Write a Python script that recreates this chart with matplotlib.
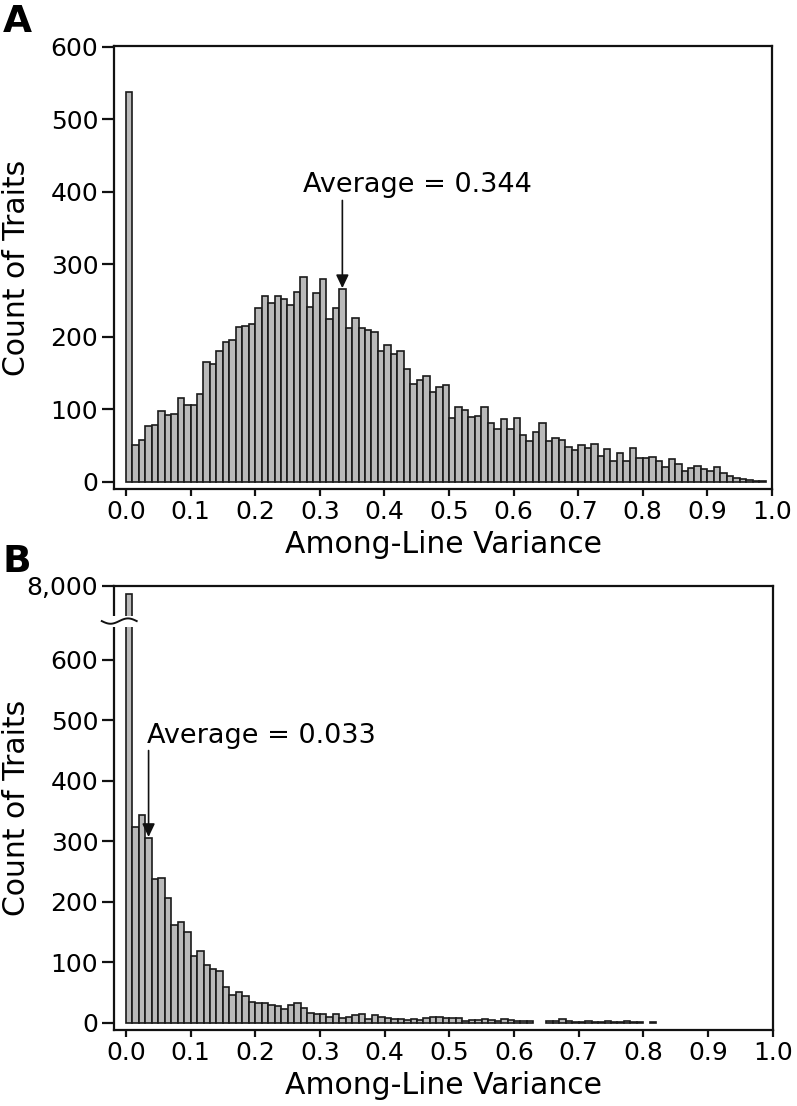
import numpy as np
import matplotlib
matplotlib.use("Agg")
import matplotlib.pyplot as plt
from matplotlib.patches import Rectangle

plt.rcParams['font.family'] = ['DejaVu Sans']

# ---------------- data ----------------
bin_width = 0.01
bin_left = np.round(np.arange(0, 1.0, bin_width), 2)

counts_a = [538, 51, 58, 77, 78, 98, 92, 94, 115, 106,
            106, 121, 165, 162, 181, 193, 196, 213, 215, 217,
            239, 256, 247, 256, 252, 244, 262, 283, 241, 261,
            279, 224, 240, 266, 212, 226, 212, 209, 206, 180,
            189, 176, 181, 156, 135, 140, 146, 124, 130, 133,
            88, 103, 99, 89, 90, 103, 81, 73, 87, 73,
            88, 65, 56, 69, 81, 56, 60, 58, 48, 44,
            50, 46, 52, 35, 45, 28, 39, 29, 46, 33,
            33, 34, 28, 20, 31, 24, 15, 19, 22, 17,
            15, 20, 12, 8, 5, 4, 2.5, 1.5, 0.5, 0]

counts_b = [7800, 324, 343, 306, 238, 239, 206, 162, 167, 150,
            110, 118, 96, 89, 85, 59, 46, 51, 44, 35,
            33, 33, 29, 27, 23, 29, 32, 25, 16, 15,
            15, 10, 14, 8, 10, 13, 14, 7, 12, 10,
            8, 7, 7, 5, 7, 5, 8, 9, 9, 8,
            8, 8, 3, 4, 4, 7, 5, 3, 6, 4,
            3, 3, 3, 0, 0, 3, 3, 6, 3, 2,
            2, 3, 2, 2, 3, 2, 2, 3, 2, 2,
            0, 2, 0, 0, 0, 0, 0, 0, 0, 0,
            0, 0, 0, 0, 0, 0, 0, 0, 0, 0]

x_ticks = [0.0, 0.1, 0.2, 0.3, 0.4, 0.5, 0.6, 0.7, 0.8, 0.9, 1.0]
x_ticklabels = ["0.0", "0.1", "0.2", "0.3", "0.4", "0.5", "0.6", "0.7", "0.8", "0.9", "1.0"]
y_ticks_a = [0, 100, 200, 300, 400, 500, 600]
y_ticks_b = [0, 100, 200, 300, 400, 500, 600, 8000]
y_ticklabels_b = ["0", "100", "200", "300", "400", "500", "600", "8,000"]

avg_text_a = "Average = 0.344"
avg_text_b = "Average = 0.033"
arrow_bin_a = 33      # bin the arrow points at (0.33-0.34)
arrow_bin_b = 3       # bin the arrow points at (0.03-0.04)

# ---------------- broken scale for panel B ----------------
B1, G, B2, YTOP, TTOP = 655.0, 18.0, 7250.0, 8000.0, 722.0
up_slope = (TTOP - B1 - G) / (YTOP - B2)


def fwd(y):
    y = np.asarray(y, dtype=float)
    return np.where(y <= B1, y,
                    np.where(y <= B2, B1 + (y - B1) * G / (B2 - B1),
                             B1 + G + (y - B2) * up_slope))


def inv(t):
    t = np.asarray(t, dtype=float)
    return np.where(t <= B1, t,
                    np.where(t <= B1 + G, B1 + (t - B1) * (B2 - B1) / G,
                             B2 + (t - B1 - G) / up_slope))


# ---------------- figure ----------------
W, H = 797, 1106
fig = plt.figure(figsize=(W / 100, H / 100), dpi=100)


def px_axes(l, t, r, b):
    return fig.add_axes([l / W, 1 - b / H, (r - l) / W, (b - t) / H])


axA = px_axes(114.3, 46, 772, 489)
axB = px_axes(114.3, 586, 772.7, 1030)

bar_face = "#bababa"
bar_edge = "#1a1a1a"
tick_fs = 18
label_fs = 21.5
avg_fs = 19.5
ink = "#111111"

for ax in (axA, axB):
    for s in ax.spines.values():
        s.set_linewidth(1.6)
        s.set_color(ink)
    ax.tick_params(axis="both", direction="out", width=1.6, color=ink,
                   labelsize=tick_fs, pad=3)
    ax.tick_params(axis="y", length=8.5)
    ax.tick_params(axis="x", length=5)
    ax.set_xlim(-0.018, 1.0)
    ax.set_xticks(x_ticks)
    ax.set_xticklabels(x_ticklabels)
    ax.set_xlabel("Among-Line Variance", fontsize=label_fs)
    ax.set_ylabel("Count of Traits", fontsize=label_fs)
    ax.yaxis.set_label_coords(-0.127, 0.5)
    ax.xaxis.set_label_coords(0.5, -0.092)

arrow_props = dict(arrowstyle="-|>,head_length=0.42,head_width=0.2",
                   color=ink, lw=1.2, shrinkA=0, shrinkB=0, mutation_scale=19)

# Panel A
ca = np.array(counts_a, dtype=float)
m = ca > 0
axA.bar(bin_left[m], ca[m], width=bin_width, align="edge",
        color=bar_face, edgecolor=bar_edge, linewidth=1.2)
axA.set_ylim(-10, 601)
axA.set_yticks(y_ticks_a)
xA = bin_left[arrow_bin_a] + bin_width / 2
axA.text(0.274, 400, avg_text_a, ha="left", va="baseline", fontsize=avg_fs)
axA.annotate("", xy=(xA, ca[arrow_bin_a] + 1), xytext=(xA, 388),
             arrowprops=arrow_props)

# Panel B
axB.set_yscale("function", functions=(fwd, inv))
cb = np.array(counts_b, dtype=float)
m = cb > 0
axB.bar(bin_left[m], cb[m], width=bin_width, align="edge",
        color=bar_face, edgecolor=bar_edge, linewidth=1.2)
axB.set_ylim(-12, YTOP)
axB.set_yticks(y_ticks_b)
axB.set_yticklabels(y_ticklabels_b)
axB.yaxis.set_minor_locator(matplotlib.ticker.NullLocator())
xB = bin_left[arrow_bin_b] + bin_width / 2
axB.text(0.033, 462, avg_text_b, ha="left", va="baseline", fontsize=avg_fs)
axB.annotate("", xy=(xB, cb[arrow_bin_b] + 1), xytext=(xB, 450),
             arrowprops=arrow_props)

# axis break marks on panel B
axB.add_patch(Rectangle((-0.03, B1), 0.0405, B2 - B1, transform=axB.transData,
                        facecolor="white", edgecolor="none", zorder=5, clip_on=False))
tx = np.linspace(-0.019, 0.034, 60)
ty = 0.921 + 0.006 * np.sin((tx - tx[0]) / (tx[-1] - tx[0]) * 2 * np.pi + np.pi)
axB.plot(tx, ty, transform=axB.transAxes, color=ink, lw=1.4,
         clip_on=False, zorder=6)

# panel letters
fig.text(3 / W, 1 - 4 / H, "A", fontsize=27, fontweight="bold", ha="left", va="top")
fig.text(3 / W, 1 - 544 / H, "B", fontsize=27, fontweight="bold", ha="left", va="top")

fig.savefig("out.png", dpi=100)
